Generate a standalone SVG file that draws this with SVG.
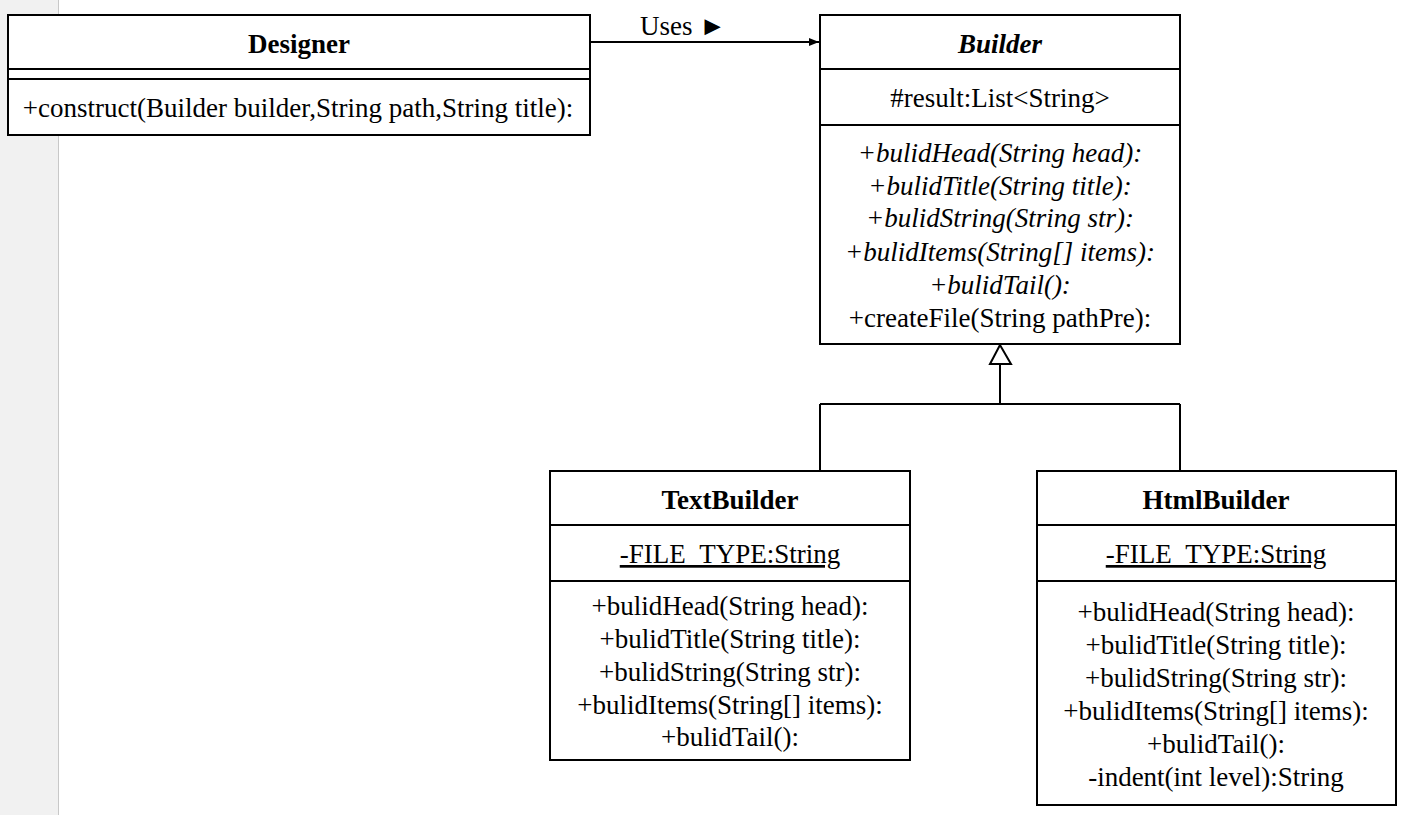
<svg xmlns="http://www.w3.org/2000/svg" width="1419" height="815" viewBox="0 0 1419 815">
<style>
.box{fill:#fff;stroke:#000;stroke-width:2}
.ln{stroke:#000;stroke-width:2;fill:none}
text{font-family:"Liberation Serif","Times New Roman",serif;font-size:27px;fill:#000;text-anchor:middle}
.t{font-weight:bold}
.i{font-style:italic}
.u{text-decoration:underline}
</style>
<defs>
<marker id="fa" viewBox="0 0 10 10" refX="10" refY="5" markerWidth="10" markerHeight="10" markerUnits="userSpaceOnUse" orient="auto">
<path d="M0,1 L10,5 L0,9 Z" fill="#000"/>
</marker>
</defs>
<rect x="0" y="0" width="1419" height="815" fill="#fff"/>
<rect x="0" y="0" width="58" height="815" fill="#f1f1f1"/>
<line x1="58.5" y1="0" x2="58.5" y2="815" stroke="#c8c8c8" stroke-width="1"/>
<g id="connectors">
<line class="ln" x1="590" y1="42" x2="819" y2="42" marker-end="url(#fa)"/>
<text x="683" y="35">Uses ►</text>
<path class="ln" d="M1000,364 L1000,404 M820,404 L1180,404 M820,404 L820,471 M1180,404 L1180,471"/>
<path d="M1000,345 L990,364 L1011,364 Z" fill="#fff" stroke="#000" stroke-width="2"/>
</g>
<g id="designer">
<rect class="box" x="8" y="15" width="582" height="120"/>
<line class="ln" x1="8" y1="69" x2="590" y2="69"/>
<line class="ln" x1="8" y1="79" x2="590" y2="79"/>
<text class="t" x="299" y="53">Designer</text>
<text x="298" y="117">+construct(Builder builder,String path,String title):</text>
</g>
<g id="builder">
<rect class="box" x="820" y="15" width="360" height="329"/>
<line class="ln" x1="820" y1="69" x2="1180" y2="69"/>
<line class="ln" x1="820" y1="125" x2="1180" y2="125"/>
<text class="t i" x="1000" y="53">Builder</text>
<text x="1000" y="107">#result:List&lt;String&gt;</text>
<text class="i" x="1000" y="162">+bulidHead(String head):</text>
<text class="i" x="1000" y="195">+bulidTitle(String title):</text>
<text class="i" x="1000" y="227">+bulidString(String str):</text>
<text class="i" x="1000" y="261">+bulidItems(String[] items):</text>
<text class="i" x="1000" y="294">+bulidTail():</text>
<text x="1000" y="327">+createFile(String pathPre):</text>
</g>
<g id="textbuilder">
<rect class="box" x="550" y="471" width="360" height="289"/>
<line class="ln" x1="550" y1="525" x2="910" y2="525"/>
<line class="ln" x1="550" y1="581" x2="910" y2="581"/>
<text class="t" x="730" y="509">TextBuilder</text>
<text class="u" x="730" y="563">-FILE_TYPE:String</text>
<text x="730" y="615">+bulidHead(String head):</text>
<text x="730" y="648">+bulidTitle(String title):</text>
<text x="730" y="681">+bulidString(String str):</text>
<text x="730" y="714">+bulidItems(String[] items):</text>
<text x="730" y="746">+bulidTail():</text>
</g>
<g id="htmlbuilder">
<rect class="box" x="1037" y="471" width="359" height="334"/>
<line class="ln" x1="1037" y1="525" x2="1396" y2="525"/>
<line class="ln" x1="1037" y1="581" x2="1396" y2="581"/>
<text class="t" x="1216" y="509">HtmlBuilder</text>
<text class="u" x="1216" y="563">-FILE_TYPE:String</text>
<text x="1216" y="621">+bulidHead(String head):</text>
<text x="1216" y="654">+bulidTitle(String title):</text>
<text x="1216" y="687">+bulidString(String str):</text>
<text x="1216" y="720">+bulidItems(String[] items):</text>
<text x="1216" y="753">+bulidTail():</text>
<text x="1216" y="786">-indent(int level):String</text>
</g>
</svg>
